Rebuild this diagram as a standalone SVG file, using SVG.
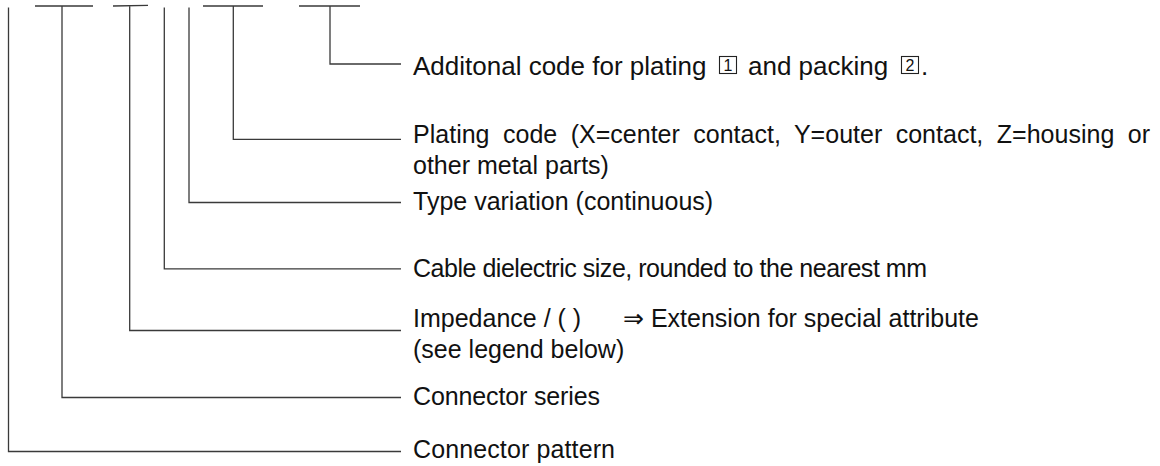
<svg xmlns="http://www.w3.org/2000/svg" width="1160" height="466" viewBox="0 0 1160 466">
  <style>
    .ln { fill: none; stroke: #3a3a3a; stroke-width: 1.3; }
    .t { font-family: "Liberation Sans", Arial, sans-serif; font-size: 25px; fill: #111; }
    .t26 { font-size: 26px; }
    .bx { fill: none; stroke: #222; stroke-width: 1.1; }
    .d { font-family: "Liberation Sans", Arial, sans-serif; font-size: 16px; fill: #111; text-anchor: middle; }
  </style>
  <rect width="1160" height="466" fill="#fff"/>
  <g id="connectors">
    <path class="ln" d="M8.5,7.5 V451.5 H401"/>
    <path class="ln" d="M35,6 H93 M62,6 V397.5 H401"/>
    <path class="ln" d="M113,6 L148,5.3 M129.7,6 V330.5 H401"/>
    <path class="ln" d="M164.3,7.5 V268.8 H401"/>
    <path class="ln" d="M189,7.5 V202.5 H401"/>
    <path class="ln" d="M203,6 H263 M233.3,6 V139.3 H401"/>
    <path class="ln" d="M299,6 H360 M330,6 V64 H401"/>
  </g>
  <g id="additional-code">
    <text class="t t26" x="413" y="75">Additonal code for plating</text>
    <rect class="bx" x="719.5" y="56.5" width="17" height="17"/>
    <text class="d" x="728" y="71">1</text>
    <text class="t t26" x="748" y="75">and packing</text>
    <rect class="bx" x="901.5" y="56.5" width="17" height="17"/>
    <text class="d" x="910" y="71">2</text>
    <text class="t t26" x="921" y="75">.</text>
  </g>
  <g id="plating-code">
    <text class="t" x="413" y="143" word-spacing="6.5" textLength="737" lengthAdjust="spacing">Plating code (X=center contact, Y=outer contact, Z=housing or</text>
    <text class="t" x="413" y="174">other metal parts)</text>
  </g>
  <g id="type-variation">
    <text class="t" x="413" y="210">Type variation (continuous)</text>
  </g>
  <g id="cable-dielectric">
    <text class="t" x="413" y="277" textLength="514" lengthAdjust="spacing">Cable dielectric size, rounded to the nearest mm</text>
  </g>
  <g id="impedance">
    <text class="t" x="413" y="327">Impedance / ( )</text>
    <text class="t" x="623" y="327">⇒ Extension for special attribute</text>
    <text class="t" x="413" y="358">(see legend below)</text>
  </g>
  <g id="connector-series">
    <text class="t" x="413" y="405" textLength="187" lengthAdjust="spacing">Connector series</text>
  </g>
  <g id="connector-pattern">
    <text class="t" x="413" y="458" textLength="202" lengthAdjust="spacing">Connector pattern</text>
  </g>
</svg>
